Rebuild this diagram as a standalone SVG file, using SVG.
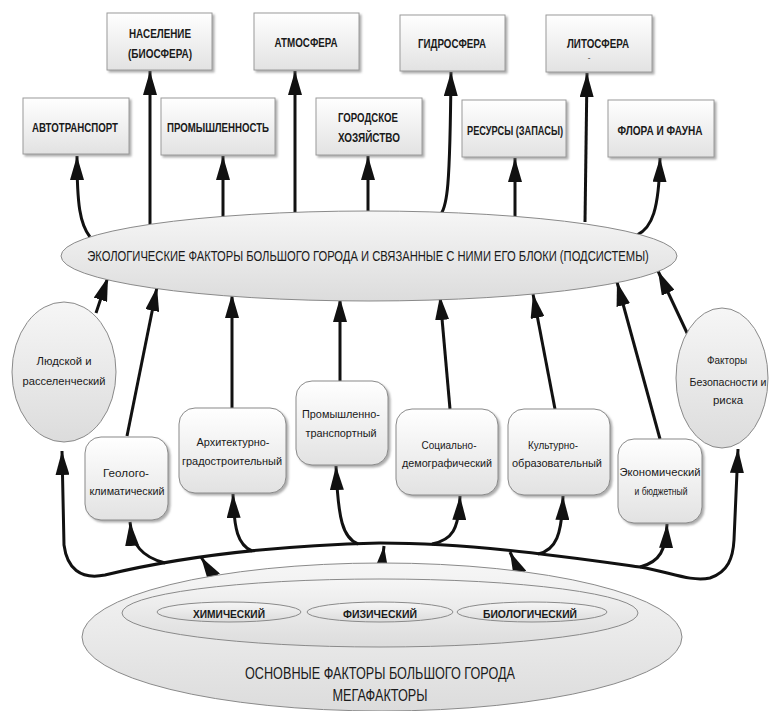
<svg xmlns="http://www.w3.org/2000/svg" width="771" height="711" viewBox="0 0 771 711">
<defs>
<linearGradient id="gBox" x1="0" y1="0" x2="0" y2="1"><stop offset="0" stop-color="#ffffff"/><stop offset="1" stop-color="#e2e2e2"/></linearGradient>
<linearGradient id="gEll" x1="0" y1="0" x2="0" y2="1"><stop offset="0" stop-color="#f6f6f6"/><stop offset="1" stop-color="#dcdcdc"/></linearGradient>
<filter id="sh" x="-10%" y="-10%" width="130%" height="130%"><feDropShadow dx="2" dy="2" stdDeviation="1.2" flood-color="#777" flood-opacity="0.6"/></filter>
<marker id="ah" markerUnits="userSpaceOnUse" markerWidth="26" markerHeight="14" refX="24" refY="7" orient="auto"><path d="M0,0 L24,7 L0,14 z" fill="#111"/></marker>
<style>
.box{fill:url(#gBox);stroke:#9a9a9a;stroke-width:1;filter:url(#sh)}
.rbox{fill:url(#gBox);stroke:#8a8a8a;stroke-width:1;filter:url(#sh)}
.ell{fill:url(#gEll);stroke:#8a8a8a;stroke-width:1}
.c{fill:none;stroke:#111;stroke-width:3;marker-end:url(#ah)}
.t{font-family:"Liberation Sans","DejaVu Sans",sans-serif;fill:#1a1a1a;text-anchor:middle}
.up{font-size:12px;font-weight:bold}
.lo{font-size:11px}
.big{font-size:15px}
.bot{font-size:11px;font-weight:bold}
.mega{font-size:16px}
</style>
</defs>
<rect width="771" height="711" fill="#ffffff"/>

<g id="connectors">
<path class="c" d="M90,237 C80,224 77,205 77,156"/>
<path class="c" d="M150,224 L150,71"/>
<path class="c" d="M223,217 L223,156"/>
<path class="c" d="M295,214 L295,71"/>
<path class="c" d="M368,213 L368,156"/>
<path class="c" d="M441,214 C447,205 450,190 451,72"/>
<path class="c" d="M515,218 L515,158"/>
<path class="c" d="M585,222 L587,73"/>
<path class="c" d="M637,235 C652,228 659,210 660,158"/>

<path class="c" d="M96,313 L108,277"/>
<path class="c" d="M127,436 L157,287"/>
<path class="c" d="M232,408 L232,294"/>
<path class="c" d="M340,381 L340,298"/>
<path class="c" d="M450,409 L440,296"/>
<path class="c" d="M555,409 L533,294"/>
<path class="c" d="M660,439 L617,282"/>
<path class="c" d="M688,335 L658,271"/>

<path class="c" d="M380,543 C300,545 200,552 105,575 C80,580 67,568 64,545 L62,451"/>
<path class="c" d="M380,543 C470,543 560,556 640,567 C670,572 690,582 710,578 C728,572 733,558 734,540 L738,449"/>
<path class="c" d="M165,563 C142,557 132,545 130,522"/>
<path class="c" d="M252,551 C238,545 234,530 233,494"/>
<path class="c" d="M358,544 C343,538 338,520 336,466"/>
<path class="c" d="M432,544 C452,540 459,530 460,496"/>
<path class="c" d="M538,554 C556,550 562,535 563,496"/>
<path class="c" d="M640,567 C660,562 666,550 667,524"/>

<path class="c" d="M230,602 L201,557"/>
<path class="c" d="M378,602 L384,546"/>
<path class="c" d="M533,602 L510,552"/>
</g>

<g id="n-naselenie"><rect class="box" x="107" y="13" width="105" height="57"/><text class="t up" x="160" y="38" textLength="62" lengthAdjust="spacingAndGlyphs">НАСЕЛЕНИЕ</text><text class="t up" x="160" y="58" textLength="64" lengthAdjust="spacingAndGlyphs">(БИОСФЕРА)</text></g>
<g id="n-atmosfera"><rect class="box" x="254" y="13" width="105" height="57"/><text class="t up" x="306" y="47" textLength="63" lengthAdjust="spacingAndGlyphs">АТМОСФЕРА</text></g>
<g id="n-gidrosfera"><rect class="box" x="400" y="15" width="105" height="56"/><text class="t up" x="452" y="48" textLength="68" lengthAdjust="spacingAndGlyphs">ГИДРОСФЕРА</text></g>
<g id="n-litosfera"><rect class="box" x="546" y="15" width="106" height="57"/><text class="t up" x="598" y="48" textLength="62" lengthAdjust="spacingAndGlyphs">ЛИТОСФЕРА</text><text class="t" x="589" y="60" font-size="8">-</text></g>
<g id="n-avtotransport"><rect class="box" x="23" y="98" width="106" height="56"/><text class="t up" x="75" y="132" textLength="86" lengthAdjust="spacingAndGlyphs">АВТОТРАНСПОРТ</text></g>
<g id="n-promyshlennost"><rect class="box" x="161" y="98" width="114" height="57"/><text class="t up" x="218" y="132" textLength="102" lengthAdjust="spacingAndGlyphs">ПРОМЫШЛЕННОСТЬ</text></g>
<g id="n-gorodskoe"><rect class="box" x="316" y="98" width="106" height="57"/><text class="t up" x="368" y="122" textLength="60" lengthAdjust="spacingAndGlyphs">ГОРОДСКОЕ</text><text class="t up" x="369" y="142" textLength="62" lengthAdjust="spacingAndGlyphs">ХОЗЯЙСТВО</text></g>
<g id="n-resursy"><rect class="box" x="462" y="100" width="104" height="57"/><text class="t up" x="515" y="135" textLength="96" lengthAdjust="spacingAndGlyphs">РЕСУРСЫ (ЗАПАСЫ)</text></g>
<g id="n-flora"><rect class="box" x="608" y="100" width="106" height="57"/><text class="t up" x="660" y="135" textLength="85" lengthAdjust="spacingAndGlyphs">ФЛОРА И ФАУНА</text></g>

<g id="n-eco"><ellipse class="ell" cx="369" cy="256" rx="308" ry="45"/><text class="t big" transform="translate(368,261) scale(0.72,1)" x="0" y="0" textLength="780" lengthAdjust="spacingAndGlyphs">ЭКОЛОГИЧЕСКИЕ ФАКТОРЫ БОЛЬШОГО ГОРОДА И СВЯЗАННЫЕ С НИМИ ЕГО БЛОКИ (ПОДСИСТЕМЫ)</text></g>

<g id="n-ludskoy"><ellipse class="ell" cx="64" cy="372" rx="52" ry="70"/><text class="t lo" x="64" y="365" textLength="55" lengthAdjust="spacingAndGlyphs">Людской и</text><text class="t lo" x="64" y="385" textLength="83" lengthAdjust="spacingAndGlyphs">расселенческий</text></g>
<g id="n-geologo"><rect class="rbox" x="85" y="437" width="83" height="83" rx="16"/><text class="t lo" x="126" y="477" textLength="46" lengthAdjust="spacingAndGlyphs">Геолого-</text><text class="t lo" x="127" y="495" textLength="75" lengthAdjust="spacingAndGlyphs">климатический</text></g>
<g id="n-arkh"><rect class="rbox" x="179" y="408" width="107" height="85" rx="16"/><text class="t lo" x="233" y="446" textLength="73" lengthAdjust="spacingAndGlyphs">Архитектурно-</text><text class="t lo" x="232" y="465" textLength="100" lengthAdjust="spacingAndGlyphs">градостроительный</text></g>
<g id="n-prom"><rect class="rbox" x="296" y="381" width="92" height="84" rx="16"/><text class="t lo" x="341" y="418" textLength="78" lengthAdjust="spacingAndGlyphs">Промышленно-</text><text class="t lo" x="341" y="437" textLength="71" lengthAdjust="spacingAndGlyphs">транспортный</text></g>
<g id="n-social"><rect class="rbox" x="396" y="409" width="102" height="86" rx="16"/><text class="t lo" x="449" y="449" textLength="55" lengthAdjust="spacingAndGlyphs">Социально-</text><text class="t lo" x="447" y="467" textLength="90" lengthAdjust="spacingAndGlyphs">демографический</text></g>
<g id="n-kultur"><rect class="rbox" x="508" y="409" width="102" height="86" rx="16"/><text class="t lo" x="553" y="449" textLength="50" lengthAdjust="spacingAndGlyphs">Культурно-</text><text class="t lo" x="557" y="467" textLength="90" lengthAdjust="spacingAndGlyphs">образовательный</text></g>
<g id="n-econom"><rect class="rbox" x="618" y="439" width="84" height="84" rx="16"/><text class="t lo" x="660" y="476" textLength="81" lengthAdjust="spacingAndGlyphs">Экономический</text><text class="t lo" x="661" y="495" textLength="53" lengthAdjust="spacingAndGlyphs">и бюджетный</text></g>
<g id="n-bezop"><ellipse class="ell" cx="722" cy="378" rx="46" ry="70"/><text class="t lo" x="727" y="364" textLength="40" lengthAdjust="spacingAndGlyphs">Факторы</text><text class="t lo" x="728" y="386" textLength="77" lengthAdjust="spacingAndGlyphs">Безопасности и</text><text class="t lo" x="728" y="404" textLength="30" lengthAdjust="spacingAndGlyphs">риска</text></g>

<g id="n-mega"><ellipse class="ell" cx="382" cy="637" rx="300" ry="74"/><ellipse class="ell" cx="380" cy="613" rx="258" ry="34"/><text class="t mega" x="380" y="679" textLength="270" lengthAdjust="spacingAndGlyphs">ОСНОВНЫЕ ФАКТОРЫ БОЛЬШОГО ГОРОДА</text><text class="t mega" x="380" y="701" textLength="95" lengthAdjust="spacingAndGlyphs">МЕГАФАКТОРЫ</text></g>
<g id="n-khim"><ellipse class="ell" cx="229" cy="612" rx="72" ry="10"/><text class="t bot" x="229" y="618" textLength="72" lengthAdjust="spacingAndGlyphs">ХИМИЧЕСКИЙ</text></g>
<g id="n-fiz"><ellipse class="ell" cx="380" cy="612" rx="73" ry="10"/><text class="t bot" x="380" y="618" textLength="74" lengthAdjust="spacingAndGlyphs">ФИЗИЧЕСКИЙ</text></g>
<g id="n-bio"><ellipse class="ell" cx="532" cy="612" rx="75" ry="10"/><text class="t bot" x="530" y="618" textLength="94" lengthAdjust="spacingAndGlyphs">БИОЛОГИЧЕСКИЙ</text></g>
</svg>
